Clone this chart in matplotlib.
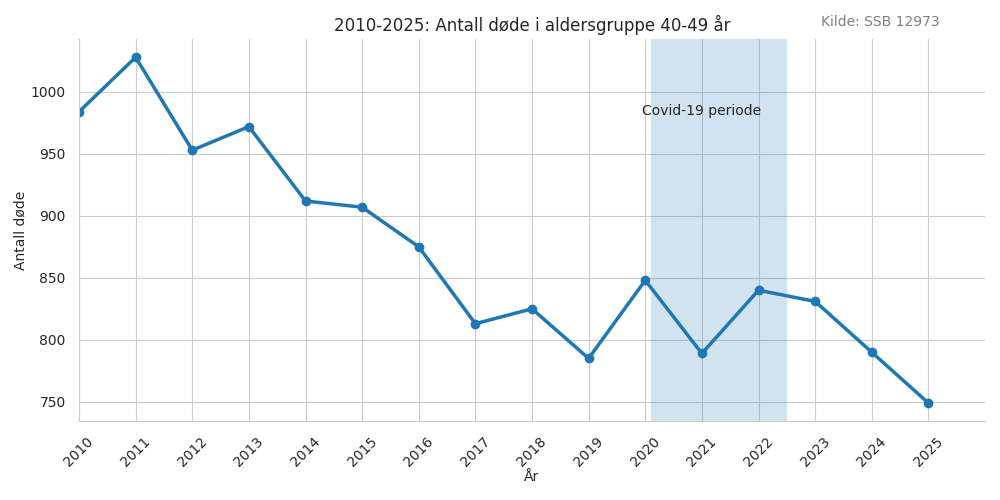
import matplotlib
matplotlib.use("Agg")
import matplotlib.pyplot as plt
import seaborn as sns

years = [2010, 2011, 2012, 2013, 2014, 2015, 2016, 2017, 2018, 2019, 2020, 2021, 2022, 2023, 2024, 2025]
deaths = [984, 1028, 953, 972, 912, 907, 875, 813, 825, 785, 848, 789, 840, 831, 790, 749]
covid_start = 2020.1
covid_end = 2022.5

sns.set_theme(style="whitegrid")
plt.rcParams.update({
    "xtick.labelsize": 10, "ytick.labelsize": 10,
    "axes.labelsize": 10, "axes.titlesize": 12,
    "grid.linewidth": 0.8, "axes.linewidth": 0.8,
})
fig, ax = plt.subplots(figsize=(10, 5), dpi=100)
ax.axvspan(covid_start, covid_end, color="#1f77b4", alpha=0.2, lw=0)
ax.plot(years, deaths, color="#1f77b4", lw=2.5, marker="o", markersize=6)
ax.text(2021, 985, "Covid-19 periode", ha="center", va="center", fontsize=10, color="#262626")
ax.set_xlim(2010, 2026)
ax.set_ylim(734.5, 1042.7)
ax.set_xticks(years)
ax.set_xticklabels([str(y) for y in years], rotation=45)
ax.set_xlabel("År", labelpad=1)
ax.set_ylabel("Antall døde", labelpad=2)
ax.set_title("2010-2025: Antall døde i aldersgruppe 40-49 år")
sns.despine()
fig.subplots_adjust(left=0.079, right=0.985, top=0.922, bottom=0.158)
fig.text(0.88, 0.955, "Kilde: SSB 12973", ha="center", va="center", fontsize=10, color="grey")
fig.savefig("out.png")
